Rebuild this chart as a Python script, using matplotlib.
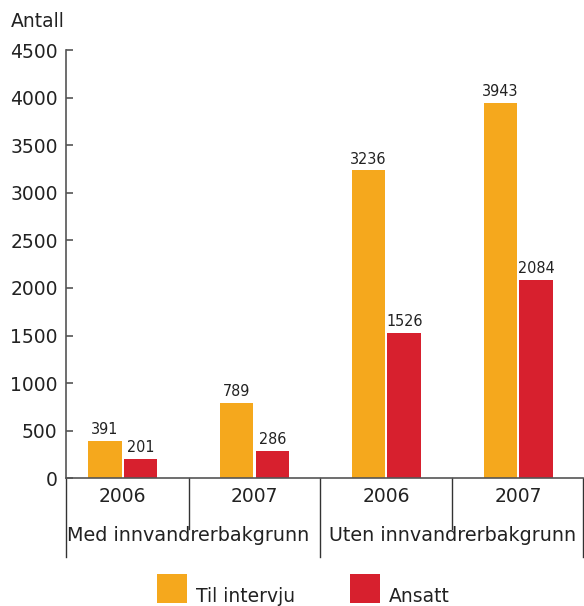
import numpy as np
import matplotlib.pyplot as plt
from matplotlib.patches import Rectangle

# Data
years = ['2006', '2007', '2006', '2007']
groups = ['Med innvandrerbakgrunn', 'Uten innvandrerbakgrunn']
til_intervju = [391, 789, 3236, 3943]
ansatt = [201, 286, 1526, 2084]
series_names = ['Til intervju', 'Ansatt']

ORANGE = '#F5A81D'
RED = '#D7202E'
TXT = '#222222'

W, H = 584, 606
fig = plt.figure(figsize=(W / 100, H / 100), dpi=100)
ax = fig.add_axes([0.113, 0.211, 0.885, 0.706])

x = np.arange(len(years))
w = 0.255
b1 = ax.bar(x - w / 2 - 0.008, til_intervju, w, color=ORANGE, label=series_names[0])
b2 = ax.bar(x + w / 2 + 0.008, ansatt, w, color=RED, label=series_names[1])

# value labels
for bars, vals in [(b1, til_intervju), (b2, ansatt)]:
    for r, v in zip(bars, vals):
        ax.text(r.get_x() + r.get_width() / 2, v + 40, str(v), ha='center', va='bottom',
                fontsize=11.5, color=TXT, family='DejaVu Sans', fontstretch='condensed')

ax.set_xlim(-0.43, 3.49)
ax.set_ylim(0, 4500)
ax.set_yticks(range(0, 4501, 500))
ax.tick_params(axis='y', direction='in', length=5, width=1.2, colors='#555555',
               labelcolor=TXT, labelsize=13.5, pad=6)
ax.set_xticks([])

for s in ['top', 'right']:
    ax.spines[s].set_visible(False)
for s in ['left', 'bottom']:
    ax.spines[s].set_color('#555555')
    ax.spines[s].set_linewidth(1.2)

# category labels and dividers below the axis
tr = ax.get_xaxis_transform()
for xi, yr in zip(x, years):
    ax.text(xi, -0.043, yr, transform=tr, ha='center', va='center', fontsize=13.5, color=TXT)
for xi, gr in zip([0.5, 2.5], groups):
    ax.text(xi, -0.133, gr, transform=tr, ha='center', va='center', fontsize=13.8, color=TXT)

for xd in [0.5, 2.5]:
    ax.plot([xd, xd], [0, -0.12], transform=tr, color='#333333', lw=1, clip_on=False)
for xd in [-0.43, 1.5, 3.49]:
    ax.plot([xd, xd], [0, -0.185], transform=tr, color='#333333', lw=1, clip_on=False)

fig.text(0.018, 0.965, 'Antall', fontsize=13.5, color=TXT, va='center')

# legend (square + label, text sits low like in the original)
for px, name, col in [(157, series_names[0], ORANGE), (350, series_names[1], RED)]:
    fig.add_artist(Rectangle((px / W, (H - 603) / H), 30 / W, 29 / H,
                             transform=fig.transFigure, color=col, lw=0))
    fig.text((px + 39) / W, (H - 602) / H, name, fontsize=13.5, color=TXT, va='baseline')

fig.savefig('out.png', dpi=100)
